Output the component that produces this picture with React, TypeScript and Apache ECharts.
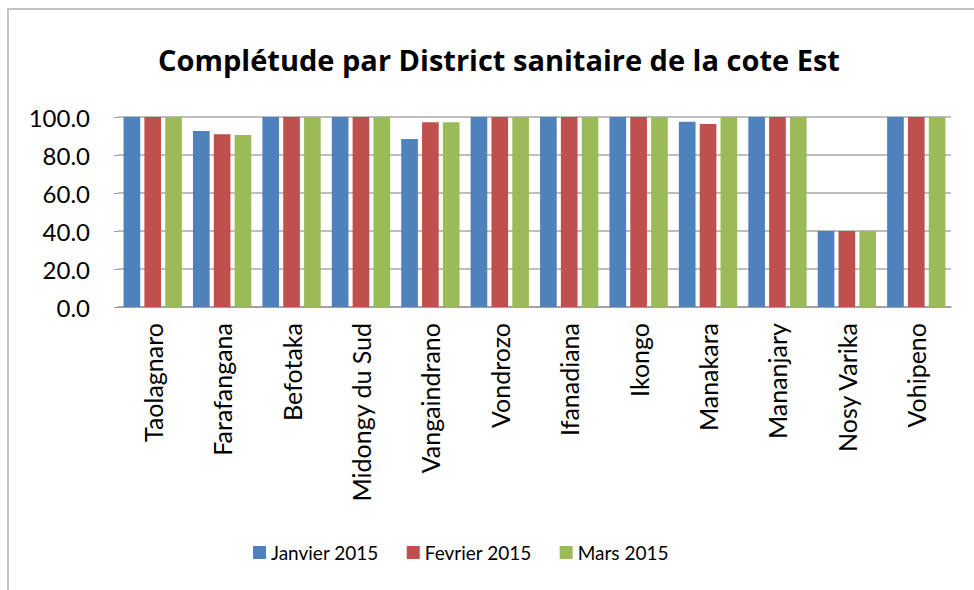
import React, { useEffect, useRef } from "react";
import * as echarts from "echarts";

const categories = [
  "Taolagnaro",
  "Farafangana",
  "Befotaka",
  "Midongy du Sud",
  "Vangaindrano",
  "Vondrozo",
  "Ifanadiana",
  "Ikongo",
  "Manakara",
  "Mananjary",
  "Nosy Varika",
  "Vohipeno",
];
const janvier2015 = [100, 92.6, 100, 100, 88.4, 100, 100, 100, 97.5, 100, 40, 100];
const fevrier2015 = [100, 90.9, 100, 100, 97.2, 100, 100, 100, 96.3, 100, 40, 100];
const mars2015 = [100, 90.5, 100, 100, 97.2, 100, 100, 100, 100, 100, 40, 100];
const seriesNames = ["Janvier 2015", "Fevrier 2015", "Mars 2015"];
const yTicks = [0, 20, 40, 60, 80, 100];

const FONT = "Lato";

export default function App() {
  const ref = useRef<HTMLDivElement>(null);
  useEffect(() => {
    if (!ref.current) return;
    const chart = echarts.init(ref.current, null, { renderer: "svg" });
    const colors = ["#4F81BD", "#C0504D", "#9BBB59"];
    const data = [janvier2015, fevrier2015, mars2015];
    chart.setOption({
      animation: false,
      backgroundColor: "#ffffff",
      color: colors,
      graphic: [
        {
          type: "rect",
          shape: { x: 8, y: 9, width: 1200, height: 1200 },
          style: { fill: "none", stroke: "#c4c4c4", lineWidth: 2 },
          silent: true,
        },
      ],
      title: {
        text: "Complétude par District sanitaire de la cote Est",
        left: 494,
        textAlign: "center",
        top: 40,
        textStyle: { fontFamily: "Open Sans", fontWeight: "bold", fontSize: 29, color: "#000" },
      },
      legend: {
        bottom: 28,
        left: 253,
        padding: 0,
        itemWidth: 13,
        itemHeight: 13,
        itemGap: 28,
        icon: "rect",
        textStyle: { fontFamily: FONT, fontSize: 19, color: "#000" },
        data: seriesNames,
      },
      grid: { left: 118, right: 23, top: 117, bottom: 283, containLabel: false },
      xAxis: {
        type: "category",
        data: categories,
        axisLine: { lineStyle: { color: "#9a9a9a", width: 1.5 } },
        axisTick: { show: false },
        axisLabel: {
          rotate: 90,
          interval: 0,
          margin: 16,
          fontFamily: FONT,
          fontSize: 25,
          color: "#000",
        },
      },
      yAxis: {
        type: "value",
        min: 0,
        max: 100,
        interval: 20,
        axisLine: { show: false },
        axisTick: { show: true, length: 4, lineStyle: { color: "#9a9a9a" } },
        splitLine: { lineStyle: { color: "#a8a8a8", width: 1.5 } },
        axisLabel: {
          margin: 28,
          fontFamily: FONT,
          fontSize: 24,
          color: "#000",
          formatter: (v: number) => (yTicks.includes(v) ? v.toFixed(1) : ""),
        },
      },
      series: seriesNames.map((name, i) => ({
        name,
        type: "bar",
        data: data[i],
        barWidth: "24%",
        barGap: "25%",
        itemStyle: { color: colors[i] },
      })),
    });
    return () => chart.dispose();
  }, []);
  return (
    <div
      ref={ref}
      style={{ position: "fixed", left: 0, top: 0, width: 974, height: 590 }}
    />
  );
}
